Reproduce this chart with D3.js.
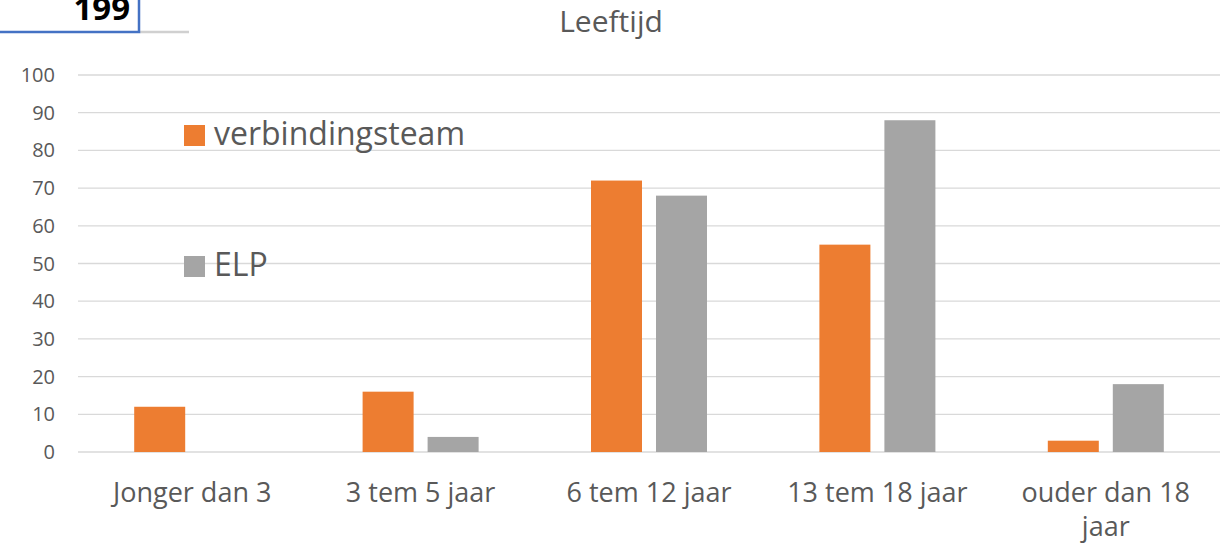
<!DOCTYPE html>
<html lang="nl">
<head>
<meta charset="UTF-8">
<title>Leeftijd</title>
<script src="https://d3js.org/d3.v7.min.js"></script>
<style>
  body { margin: 0; background: #fff; }
  svg { display: block; font-family: "Open Sans", "Noto Sans", sans-serif; }
</style>
</head>
<body>
<div id="chart"></div>
<script>
// data
const categories = ["Jonger dan 3", "3 tem 5 jaar", "6 tem 12 jaar", "13 tem 18 jaar", "ouder dan 18 jaar"];
const verbindingsteam = [12, 16, 72, 55, 3];
const elp = [0, 4, 68, 88, 18];
const seriesNames = ["verbindingsteam", "ELP"];
const yTicks = [0, 10, 20, 30, 40, 50, 60, 70, 80, 90, 100];

const width = 1227, height = 547;
const margin = { left: 78, right: 7, top: 75, bottom: 95 };
const colors = ["#ed7d31", "#a5a5a5"];

const svg = d3.select("#chart").append("svg")
  .attr("width", width)
  .attr("height", height);

const x = d3.scaleBand()
  .domain(categories)
  .range([margin.left, width - margin.right]);

const y = d3.scaleLinear()
  .domain([0, 100])
  .range([height - margin.bottom, margin.top]);

// gridlines
svg.append("g")
  .selectAll("line")
  .data(yTicks)
  .join("line")
  .attr("x1", margin.left)
  .attr("x2", width - margin.right)
  .attr("y1", d => y(d))
  .attr("y2", d => y(d))
  .attr("stroke", "#d9d9d9")
  .attr("stroke-width", 1.3);

// y axis labels
svg.append("g")
  .selectAll("text")
  .data(yTicks)
  .join("text")
  .attr("x", 55)
  .attr("y", d => y(d))
  .attr("dy", "0.35em")
  .attr("text-anchor", "end")
  .attr("fill", "#595959")
  .style("font-size", "20px")
  .text(d => d);

// bars
const barW = 51, gap = 14;
const rows = categories.map((c, i) => ({ cat: c, vals: [verbindingsteam[i], elp[i]] }));

const groups = svg.append("g")
  .selectAll("g")
  .data(rows)
  .join("g")
  .attr("transform", d => `translate(${x(d.cat) + x.bandwidth() / 2},0)`);

groups.selectAll("rect")
  .data(d => d.vals.map((v, j) => ({ v, j })))
  .join("rect")
  .attr("x", d => d.j === 0 ? -(barW + gap / 2) : gap / 2)
  .attr("width", barW)
  .attr("y", d => y(d.v))
  .attr("height", d => y(0) - y(d.v))
  .attr("fill", d => colors[d.j]);

// category labels (wrap the long one)
const catLabels = svg.append("g")
  .selectAll("text")
  .data(categories)
  .join("text")
  .attr("text-anchor", "middle")
  .attr("fill", "#595959")
  .style("font-size", "27px");

catLabels.each(function (d) {
  const t = d3.select(this);
  const cx = x(d) + x.bandwidth() / 2;
  const lines = d === "ouder dan 18 jaar" ? ["ouder dan 18", "jaar"] : [d];
  lines.forEach((ln, k) => {
    t.append("tspan").attr("x", cx).attr("y", 502 + k * 34).text(ln);
  });
});

// title
svg.append("text")
  .attr("x", 611)
  .attr("y", 32)
  .attr("text-anchor", "middle")
  .attr("fill", "#595959")
  .style("font-size", "30px")
  .text("Leeftijd");

// legend
const legendY = [125, 256];
seriesNames.forEach((name, i) => {
  svg.append("rect")
    .attr("x", 184)
    .attr("y", legendY[i])
    .attr("width", 21)
    .attr("height", 21)
    .attr("fill", colors[i]);
  svg.append("text")
    .attr("x", 214)
    .attr("y", legendY[i] + 20)
    .attr("fill", "#595959")
    .style("font-size", "32px")
    .text(name);
});

// page-number box in the corner
svg.append("line")
  .attr("x1", 140).attr("x2", 189)
  .attr("y1", 32).attr("y2", 32)
  .attr("stroke", "#d0d0d0").attr("stroke-width", 2.5);
svg.append("path")
  .attr("d", "M0,32 H139 V0")
  .attr("fill", "none")
  .attr("stroke", "#4472c4")
  .attr("stroke-width", 2.5);
svg.append("text")
  .attr("x", 130)
  .attr("y", 20)
  .attr("text-anchor", "end")
  .attr("fill", "#000")
  .style("font-weight", "bold")
  .style("font-size", "33px")
  .text("199");
</script>
</body>
</html>
